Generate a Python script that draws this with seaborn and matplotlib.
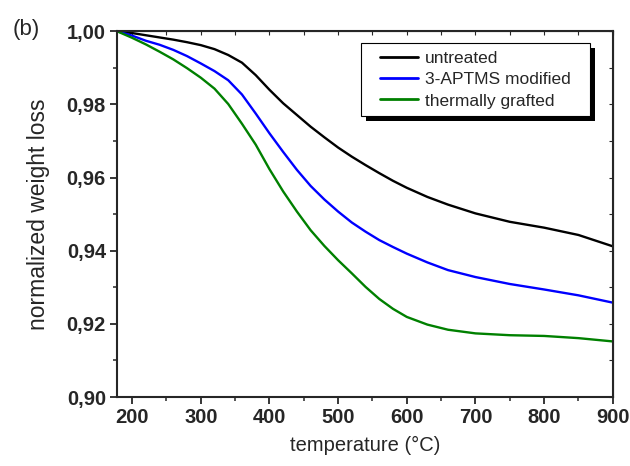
import pandas as pd
import matplotlib
matplotlib.use('Agg')
import matplotlib.pyplot as plt
import matplotlib.ticker as mticker
from matplotlib.patches import Rectangle
import seaborn as sns

# TGA curves
temperature = [178, 200, 220, 240, 260, 280, 300, 320, 340, 360, 380, 400, 420, 440, 460,
               480, 500, 520, 540, 560, 580, 600, 630, 660, 700, 750, 800, 850, 900]
untreated = [1.000, 0.9995, 0.9989, 0.9983, 0.9977, 0.9970, 0.9962, 0.9951, 0.9935, 0.9914,
             0.9880, 0.9840, 0.9803, 0.9771, 0.9739, 0.9710, 0.9682, 0.9657, 0.9634, 0.9612,
             0.9591, 0.9572, 0.9547, 0.9526, 0.9502, 0.9479, 0.9463, 0.9443, 0.9412]
aptms_modified = [1.000, 0.9988, 0.9974, 0.9963, 0.9949, 0.9932, 0.9912, 0.9891, 0.9866, 0.9827,
                  0.9775, 0.9721, 0.9670, 0.9621, 0.9577, 0.9540, 0.9507, 0.9477, 0.9452, 0.9429,
                  0.9410, 0.9392, 0.9368, 0.9347, 0.9328, 0.9309, 0.9294, 0.9278, 0.9258]
thermally_grafted = [1.000, 0.9982, 0.9964, 0.9944, 0.9923, 0.9899, 0.9873, 0.9843, 0.9801, 0.9747,
                     0.9690, 0.9623, 0.9562, 0.9507, 0.9456, 0.9413, 0.9374, 0.9338, 0.9301, 0.9268,
                     0.9241, 0.9219, 0.9198, 0.9184, 0.9174, 0.9169, 0.9167, 0.9161, 0.9152]

labels = ['untreated', '3-APTMS modified', 'thermally grafted']
colors = ['#000000', '#0000ff', '#008000']

# long format for seaborn
frames = []
for name, vals in zip(labels, [untreated, aptms_modified, thermally_grafted]):
    frames.append(pd.DataFrame({'temperature': temperature, 'weight': vals, 'sample': name}))
df = pd.concat(frames, ignore_index=True)

sns.set_style('ticks')
plt.rcParams['font.family'] = ['Liberation Sans', 'DejaVu Sans']

fig = plt.figure(figsize=(6.3, 4.66), dpi=100)
ax = fig.add_axes([0.1857, 0.148, 0.787, 0.785])

sns.lineplot(data=df, x='temperature', y='weight', hue='sample', palette=colors,
             hue_order=labels, linewidth=1.7, estimator=None, sort=False, ax=ax)

ax.set_xlim(178, 900)
ax.set_ylim(0.90, 1.00)
ax.xaxis.set_major_locator(mticker.MultipleLocator(100))
ax.xaxis.set_minor_locator(mticker.MultipleLocator(50))
ax.yaxis.set_major_locator(mticker.MultipleLocator(0.02))
ax.yaxis.set_minor_locator(mticker.MultipleLocator(0.01))
ax.yaxis.set_major_formatter(mticker.FuncFormatter(lambda v, _: f"{v:.2f}".replace('.', ',')))

ax.tick_params(which='major', direction='out', length=5, width=1.3, labelsize=14.5, pad=3)
ax.tick_params(which='minor', direction='out', length=3, width=1.1)
for lab in ax.get_xticklabels() + ax.get_yticklabels():
    lab.set_fontweight('bold')

# inward ticks on top and right, no labels
top = ax.secondary_xaxis('top')
top.xaxis.set_major_locator(mticker.MultipleLocator(100))
top.xaxis.set_minor_locator(mticker.MultipleLocator(50))
top.tick_params(which='both', direction='in', length=3, width=0.8, labeltop=False)
right = ax.secondary_yaxis('right')
right.yaxis.set_major_locator(mticker.MultipleLocator(0.02))
right.yaxis.set_minor_locator(mticker.MultipleLocator(0.01))
right.tick_params(which='both', direction='in', length=3, width=0.8, labelright=False)
for s in ax.spines.values():
    s.set_linewidth(1.5)

ax.set_xlabel('temperature (°C)', fontsize=14.5, labelpad=6)
ax.set_ylabel('normalized weight loss', fontsize=16.5, labelpad=12)

leg = ax.legend(loc='upper right', bbox_to_anchor=(0.929, 0.967), fontsize=12.5,
                frameon=False, borderpad=0.42, labelspacing=0.36, handlelength=2.2,
                handletextpad=0.35, borderaxespad=0)
leg.set_zorder(7)
for line in leg.get_lines():
    line.set_linewidth(2)

# boxed legend frame, wider than the legend itself, plus a solid black drop shadow
fig.canvas.draw()
bb = leg.get_window_extent().transformed(fig.transFigure.inverted())
pad_x = 12 / 630
off_x, off_y = 5 / 630, 5 / 466
x0, w = bb.x0 - pad_x, bb.width + 2 * pad_x
shadow = Rectangle((x0 + off_x, bb.y0 - off_y), w, bb.height,
                   transform=fig.transFigure, facecolor='black', edgecolor='none',
                   zorder=5, clip_on=False)
frame = Rectangle((x0, bb.y0), w, bb.height, transform=fig.transFigure,
                  facecolor='white', edgecolor='black', linewidth=0.8,
                  zorder=6, clip_on=False)
ax.add_patch(shadow)
ax.add_patch(frame)

fig.text(0.02, 0.925, '(b)', fontsize=16)

fig.savefig('out.png', dpi=100)
